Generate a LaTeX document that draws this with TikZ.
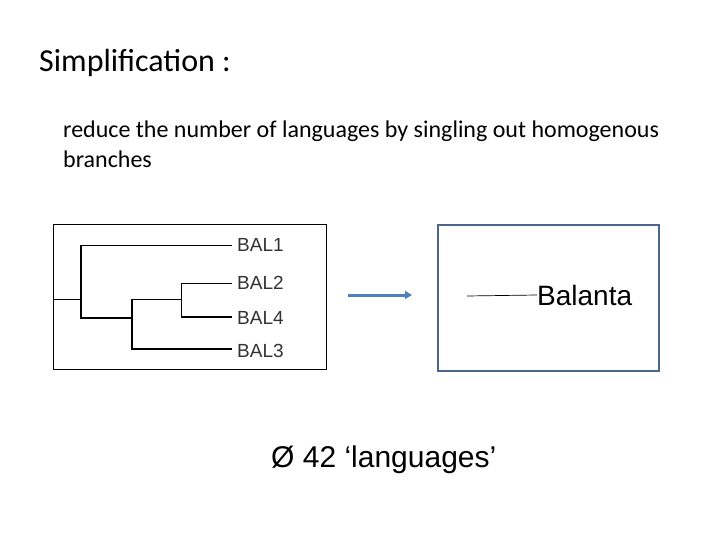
\documentclass[tikz,border=0pt]{standalone}
\usetikzlibrary{arrows.meta}
\usepackage{fontspec}
\setmainfont{Carlito}
\newfontfamily\arialf{Liberation Sans}
\definecolor{arrc}{RGB}{79,129,189}
\definecolor{bx}{RGB}{74,102,140}
\begin{document}
\begin{tikzpicture}[x=1pt,y=-1pt,
  thin/.style={line width=0.9pt},
  thk/.style={line width=2pt},
  bodyt/.style={anchor=west,inner sep=0pt,font=\fontsize{24}{28}\selectfont},
  lab/.style={anchor=west,inner sep=0pt,font=\arialf\fontsize{19}{19}\selectfont,text=black!80}]
\useasboundingbox (0,0) rectangle (720,540);
\node[anchor=west,inner sep=0pt,font=\fontsize{32}{36}\selectfont] (title) at (39,63) {Simplification :};
\node[bodyt] (body1) at (63,131) {reduce the number of languages by singling out homogenous};
\node[bodyt] (body2) at (63,159) {branches};
\draw[line width=0.8pt] (53,224) rectangle (326,369);
\draw[thin] (53,299) -- (81,299);
\draw[thk] (81,245) -- (81,318);
\draw[thin] (81,245) -- (232,245);
\draw[thk] (80,318) -- (132,318);
\draw[thk] (132,299) -- (132,350);
\draw[thin] (132,299) -- (181,299);
\draw[thin] (181,283) -- (181,318);
\draw[thin] (181,283) -- (232,283);
\draw[thk] (181,317) -- (232,317);
\draw[thk] (131,349) -- (232,349);
\node[lab] (b1) at (237,245) {BAL1};
\node[lab] (b2) at (237,283) {BAL2};
\node[lab] (b4) at (237,318) {BAL4};
\node[lab] (b3) at (237,351) {BAL3};
\coordinate (a1) at (348,295); \coordinate (a2) at (412,295);
\draw[arrc,line width=3pt,-{Triangle[length=7pt,width=8pt]}] (a1) -- (a2);
\draw[bx,line width=2.2pt] (438,225) rectangle (659,371);
\node[anchor=west,inner sep=0pt,font=\arialf\fontsize{28}{28}\selectfont] (bal) at (537,295) {Balanta};
\coordinate (l1) at (467,296);
\draw[line width=0.7pt] (l1) -- (bal.west);
\node[anchor=west,inner sep=0pt,font=\arialf\fontsize{30}{30}\selectfont] (n42) at (271,460) {Ø 42 ‘languages’};
\end{tikzpicture}
\end{document}
